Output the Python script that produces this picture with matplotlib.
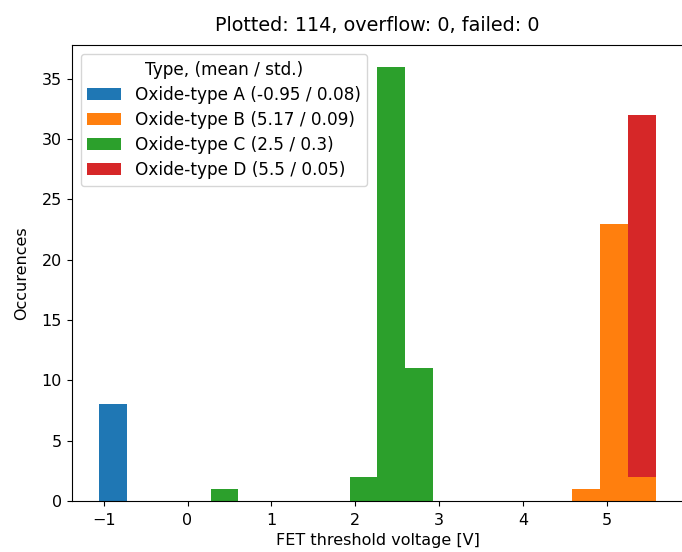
import matplotlib
matplotlib.use("Agg")
import matplotlib.pyplot as plt
import numpy as np

plt.rcParams["font.size"] = 11.5

# bin layout (20 bins)
bin_low = -1.05
bin_high = 5.577
n_bins = 20

labels = ["Oxide-type A (-0.95 / 0.08)", "Oxide-type B (5.17 / 0.09)",
          "Oxide-type C (2.5 / 0.3)", "Oxide-type D (5.5 / 0.05)"]
colors = ["#1f77b4", "#ff7f0e", "#2ca02c", "#d62728"]

# counts per bin index for each series
counts_A = {0: 8}
counts_B = {17: 1, 18: 23, 19: 2}
counts_C = {4: 1, 9: 2, 10: 36, 11: 11}
counts_D = {19: 30}

edges = np.linspace(bin_low, bin_high, n_bins + 1)
centers = (edges[:-1] + edges[1:]) / 2

xs, ws = [], []
for c in (counts_A, counts_B, counts_C, counts_D):
    xs.append(np.array([centers[k] for k in c]))
    ws.append(np.array([c[k] for k in c], dtype=float))

fig = plt.figure(figsize=(6.82, 5.52), dpi=100)
ax = fig.add_axes([0.105, 0.0924, 0.897, 0.826])
ax.hist(xs, bins=edges, weights=ws, stacked=True, color=colors, label=labels)
ax.set_title("Plotted: 114, overflow: 0, failed: 0", pad=10)
ax.set_xlabel("FET threshold voltage [V]", labelpad=3.5)
ax.set_ylabel("Occurences", labelpad=9)
ax.tick_params(axis="x", pad=5)
ax.legend(title="Type, (mean / std.)", loc="upper left", fontsize=12.2,
          title_fontsize=12.2, labelspacing=0.42, borderaxespad=0.53)
fig.savefig("out.png", dpi=100)
